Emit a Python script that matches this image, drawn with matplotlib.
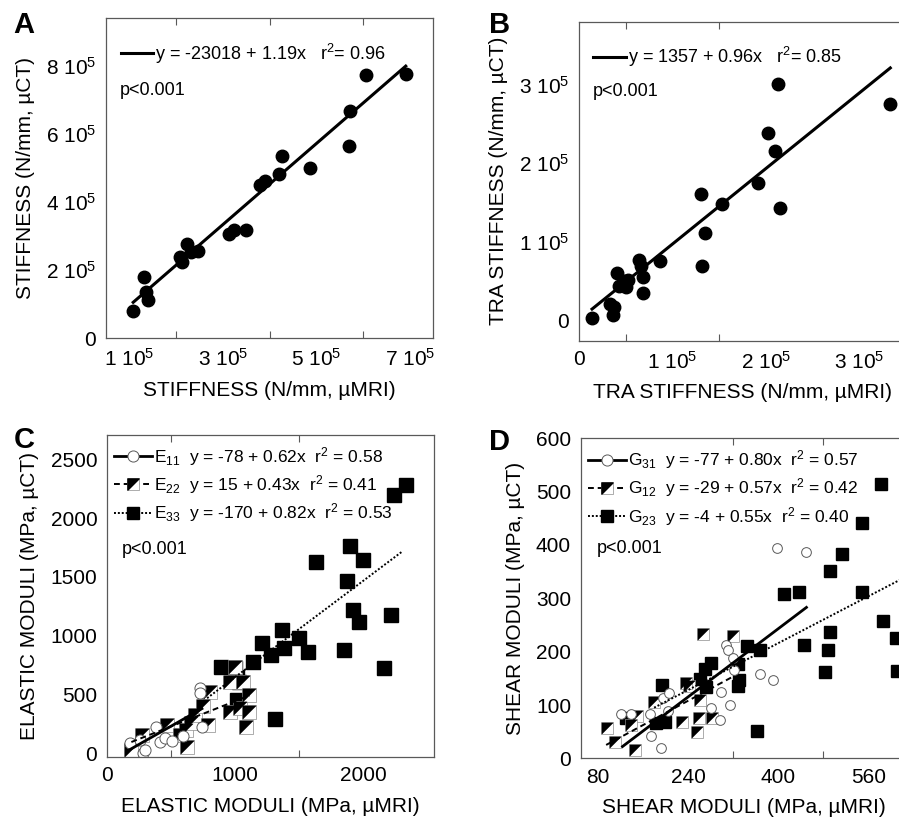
import matplotlib

matplotlib.use("Agg")
import matplotlib.pyplot as plt
import numpy as np
from matplotlib.legend_handler import HandlerTuple
from matplotlib.lines import Line2D
from matplotlib.path import Path
from matplotlib.ticker import FixedLocator, NullFormatter

plt.rcParams["font.family"] = ["Liberation Sans", "DejaVu Sans"]
plt.rcParams["mathtext.fontset"] = "custom"
plt.rcParams["mathtext.rm"] = "Liberation Sans"
plt.rcParams["mathtext.it"] = "Liberation Sans:italic"
plt.rcParams["mathtext.default"] = "regular"

# ---- panel A: stiffness ----
a_x = np.array([1.08, 1.32, 1.36, 1.40, 2.09, 2.13, 2.24, 2.31, 2.46, 3.13, 3.24,
                3.49, 3.79, 3.91, 4.20, 4.26, 4.86, 5.70, 5.72, 6.07, 6.91]) * 1e5
a_y = np.array([0.81, 1.79, 1.37, 1.12, 2.39, 2.24, 2.78, 2.52, 2.57, 3.07, 3.19,
                3.17, 4.49, 4.63, 4.83, 5.35, 5.00, 5.64, 6.68, 7.72, 7.77]) * 1e5
a_fit = (-23018, 1.19)
a_fit_x = np.array([1.08e5, 6.91e5])

# ---- panel B: TRA stiffness ----
b_x = np.array([0.14, 0.33, 0.375, 0.36, 0.41, 0.43, 0.48, 0.52, 0.50, 0.64, 0.66, 0.68,
                0.68, 0.87, 1.31, 1.35, 1.32, 1.53, 1.92, 2.02, 2.10, 2.13, 2.15, 3.33]) * 1e5
b_y = np.array([0.04, 0.21, 0.17, 0.07, 0.61, 0.44, 0.50, 0.52, 0.43, 0.77, 0.69, 0.56,
                0.35, 0.76, 1.61, 1.12, 0.69, 1.48, 1.75, 2.39, 2.15, 3.00, 1.43, 2.75]) * 1e5
b_fit = (1357, 0.96)
b_fit_x = np.array([0.14e5, 3.33e5])

# ---- panel C: elastic moduli ----
e11_x = [177, 255, 281, 297, 385, 411, 451, 503, 589, 724, 724, 737]
e11_y = [85, 114, 0, 28, 227, 99, 128, 108, 148, 554, 511, 227]
e22_x = [190, 276, 466, 568, 615, 620, 651, 682, 745, 789, 802, 958, 958, 997, 1036,
         1057, 1081, 1109, 1109]
e22_y = [28, 156, 241, 156, 199, 57, 256, 327, 403, 241, 525, 611, 355, 738, 383,
         611, 222, 497, 355]
e33_x = [885, 1000, 1010, 1026, 1016, 1141, 1206, 1276, 1313, 1362, 1383, 1500, 1570,
         1630, 1849, 1870, 1891, 1917, 1964, 1995, 2161, 2216, 2234, 2333]
e33_y = [738, 724, 653, 611, 454, 775, 937, 838, 290, 1051, 900, 980, 866,
         1625, 875, 1468, 1761, 1221, 1116, 1648, 724, 1179, 2201, 2286]
e_fits = [(-78, 0.62), (15, 0.43), (-170, 0.82)]
e_fit_x = [np.array([180, 740]), np.array([190, 1110]), np.array([780, 2300])]
e_names = ["E$_{11}$", "E$_{22}$", "E$_{33}$"]
e_r2 = ["0.58", "0.41", "0.53"]

# ---- panel D: shear moduli ----
g31_x = [121, 139, 172, 175, 193, 196, 207, 205, 281, 299, 296, 314, 307, 311, 320,
         322, 367, 391, 398, 449]
g31_y = [83, 84, 84, 42, 20, 114, 122, 88, 94, 125, 72, 100, 213, 203, 189,
         166, 158, 146, 394, 386]
g12_x = [96, 110, 146, 149, 180, 229, 242, 256, 260, 261, 267, 283, 320, 139, 237]
g12_y = [56, 30, 15, 79, 105, 68, 135, 49, 75, 109, 233, 75, 229, 62, 141]
g23_x = [130, 184, 194, 200, 262, 271, 272, 281, 329, 329, 331, 344, 363, 367, 411,
         436, 446, 483, 489, 492, 492, 513, 548, 548, 583, 586, 609, 611]
g23_y = [75, 67, 138, 69, 148, 167, 133, 178, 177, 136, 146, 211, 52, 203, 308,
         311, 213, 161, 204, 237, 352, 384, 441, 311, 514, 257, 226, 164]
g_fits = [(-77, 0.80), (-29, 0.57), (-4, 0.55)]
g_fit_x = [np.array([124, 450]), np.array([95, 320]), np.array([180, 640])]
g_names = ["G$_{31}$", "G$_{12}$", "G$_{23}$"]
g_r2 = ["0.57", "0.42", "0.40"]

TRI = Path([(-1, 1), (1, 1), (-1, -1), (-1, 1)],
           [Path.MOVETO, Path.LINETO, Path.LINETO, Path.CLOSEPOLY])
EDGE = "0.35"
ANN = 13
LBL = 15


def fmt_eq(b0, b1):
    return f"y = {b0:d} + {b1:.2f}x"


def style_axes(ax, xlim, ylim, xlab_pos, xlab, xmarks, ylab_pos, ylab, ymarks):
    ax.set_xlim(*xlim)
    ax.set_ylim(*ylim)
    ax.xaxis.set_major_locator(FixedLocator(xlab_pos))
    ax.set_xticklabels(xlab)
    ax.yaxis.set_major_locator(FixedLocator(ylab_pos))
    ax.set_yticklabels(ylab)
    ax.xaxis.set_minor_locator(FixedLocator(xmarks))
    ax.yaxis.set_minor_locator(FixedLocator(ymarks))
    ax.xaxis.set_minor_formatter(NullFormatter())
    ax.yaxis.set_minor_formatter(NullFormatter())
    ax.tick_params(which="major", length=0, labelsize=LBL, pad=7)
    ax.tick_params(which="minor", direction="in", length=5, width=0.8, color=EDGE,
                   top=True, right=True)
    for s in ax.spines.values():
        s.set_color(EDGE)
        s.set_linewidth(0.9)


def half_square(ax, x, y, ms):
    ax.plot(x, y, ls="none", marker="s", ms=ms, mfc="white", mec="0.55", mew=0.5, zorder=2)
    ax.plot(x, y, ls="none", marker=TRI, ms=ms, mfc="black", mec="black", mew=0.3, zorder=2)


fig = plt.figure(figsize=(8.99, 8.27), dpi=100)
axA = fig.add_axes([0.118, 0.591, 0.364, 0.387])
axB = fig.add_axes([0.644, 0.588, 0.364, 0.386])
axC = fig.add_axes([0.119, 0.085, 0.364, 0.389])
axD = fig.add_axes([0.646, 0.083, 0.364, 0.387])

# A
axA.plot(a_x, a_y, "o", ms=9, color="black", zorder=2)
hA, = axA.plot(a_fit_x, a_fit[0] + a_fit[1] * a_fit_x, color="black", lw=2.2, zorder=3)
axA.legend([hA], [fmt_eq(*a_fit) + "   r$^2$= 0.96"], loc="upper left", frameon=False,
           fontsize=ANN, handlelength=1.8, handletextpad=0.1, borderaxespad=0.4,
           bbox_to_anchor=(0.0, 0.972))
axA.text(0.043, 0.775, "p<0.001", transform=axA.transAxes, fontsize=ANN, va="center")
style_axes(axA, (0.5e5, 7.5e5), (0, 9.4e5),
           [1e5, 3e5, 5e5, 7e5], ["1 10$^5$", "3 10$^5$", "5 10$^5$", "7 10$^5$"],
           [2e5, 4e5, 6e5],
           [0, 2e5, 4e5, 6e5, 8e5], ["0", "2 10$^5$", "4 10$^5$", "6 10$^5$", "8 10$^5$"],
           [2e5, 4e5, 6e5, 8e5])
axA.set_xlabel("STIFFNESS (N/mm, \u00b5MRI)", fontsize=LBL, labelpad=8)
axA.set_ylabel("STIFFNESS (N/mm, \u00b5CT)", fontsize=LBL, labelpad=8)

# B
axB.plot(b_x, b_y, "o", ms=9, color="black", zorder=2)
hB, = axB.plot(b_fit_x, b_fit[0] + b_fit[1] * b_fit_x, color="black", lw=2.2, zorder=3)
axB.legend([hB], [fmt_eq(*b_fit) + "   r$^2$= 0.85"], loc="upper left", frameon=False,
           fontsize=ANN, handlelength=1.8, handletextpad=0.1, borderaxespad=0.4,
           bbox_to_anchor=(0.0, 0.972))
axB.text(0.043, 0.78, "p<0.001", transform=axB.transAxes, fontsize=ANN, va="center")
style_axes(axB, (0, 3.5e5), (-0.254e5, 3.8e5),
           [0, 1e5, 2e5, 3e5], ["0", "1 10$^5$", "2 10$^5$", "3 10$^5$"],
           [0.5e5, 1.5e5, 2e5, 3e5],
           [0, 1e5, 2e5, 3e5], ["0", "1 10$^5$", "2 10$^5$", "3 10$^5$"],
           [])
axB.set_xlabel("TRA STIFFNESS (N/mm, \u00b5MRI)", fontsize=LBL, labelpad=8)
axB.set_ylabel("TRA STIFFNESS (N/mm, \u00b5CT)", fontsize=LBL, labelpad=8)

# C
axC.plot(e33_x, e33_y, "s", ms=9.5, color="black", zorder=2)
half_square(axC, e22_x, e22_y, 9.5)
axC.plot(e11_x, e11_y, "o", ms=8, mfc="white", mec=EDGE, mew=0.7, zorder=2)
styles = [dict(ls="-", lw=2.0), dict(ls=(0, (3, 2)), lw=1.4), dict(ls=(0, (1, 1)), lw=1.4)]
for (b0, b1), fx, st in zip(e_fits, e_fit_x, styles):
    axC.plot(fx, b0 + b1 * fx, color="black", zorder=3, **st)
hC = [Line2D([], [], color="black", marker="o", ms=8, mfc="white", mec=EDGE, mew=0.7,
             **styles[0]),
      (Line2D([], [], color="black", marker="s", ms=8, mfc="white", mec="0.55", mew=0.5,
              **styles[1]),
       Line2D([], [], ls="none", marker=TRI, ms=8, mfc="black", mec="black")),
      Line2D([], [], color="black", marker="s", ms=8, mfc="black", mec="black", **styles[2])]
labC = [f"{n}  {fmt_eq(*f)}  r$^2$ = {r}" for n, f, r in zip(e_names, e_fits, e_r2)]
axC.legend(hC, labC, loc="upper left", frameon=False, fontsize=12.5, handlelength=2.2,
           handletextpad=0.1, borderaxespad=0.1, borderpad=0.3, labelspacing=0.3,
           bbox_to_anchor=(0.0, 0.99),
           handler_map={tuple: HandlerTuple(ndivide=1)})
axC.text(0.046, 0.643, "p<0.001", transform=axC.transAxes, fontsize=ANN, va="center")
style_axes(axC, (0, 2550), (-28, 2707),
           [0, 1000, 2000], ["0", "1000", "2000"], [500, 1000, 1500, 2000],
           [0, 500, 1000, 1500, 2000, 2500], ["0", "500", "1000", "1500", "2000", "2500"],
           [500, 1000, 1500, 2000, 2500])
axC.set_xlabel("ELASTIC MODULI (MPa, \u00b5MRI)", fontsize=LBL, labelpad=8)
axC.set_ylabel("ELASTIC MODULI (MPa, \u00b5CT)", fontsize=LBL, labelpad=8)

# D
axD.plot(g23_x, g23_y, "s", ms=8, color="black", zorder=2)
half_square(axD, g12_x, g12_y, 8)
axD.plot(g31_x, g31_y, "o", ms=7, mfc="white", mec=EDGE, mew=0.7, zorder=2)
for (b0, b1), fx, st in zip(g_fits, g_fit_x, styles):
    axD.plot(fx, b0 + b1 * fx, color="black", zorder=3, **st)
labD = [f"{n}  {fmt_eq(*f)}  r$^2$ = {r}" for n, f, r in zip(g_names, g_fits, g_r2)]
axD.legend(hC, labD, loc="upper left", frameon=False, fontsize=12.5, handlelength=2.2,
           handletextpad=0.1, borderaxespad=0.1, borderpad=0.3, labelspacing=0.3,
           bbox_to_anchor=(0.0, 0.99),
           handler_map={tuple: HandlerTuple(ndivide=1)})
axD.text(0.049, 0.656, "p<0.001", transform=axD.transAxes, fontsize=ANN, va="center")
style_axes(axD, (50, 630), (0, 600),
           [80, 240, 400, 560], ["80", "240", "400", "560"], [80, 240, 320, 480],
           [0, 100, 200, 300, 400, 500, 600], ["0", "100", "200", "300", "400", "500", "600"],
           [100, 200, 300, 400, 500])
axD.set_xlabel("SHEAR MODULI (MPa, \u00b5MRI)", fontsize=LBL, labelpad=8)
axD.set_ylabel("SHEAR MODULI (MPa, \u00b5CT)", fontsize=LBL, labelpad=8)

for letter, (x, y) in zip("ABCD", [(0.027, 0.970), (0.556, 0.970), (0.027, 0.468), (0.556, 0.466)]):
    fig.text(x, y, letter, fontsize=21, fontweight="bold", ha="center", va="center")

fig.savefig("out.png", dpi=100)
